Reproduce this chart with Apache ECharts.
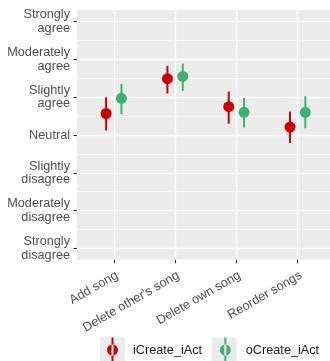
<!DOCTYPE html>
<html>
<head>
<meta charset="utf-8">
<script src="https://cdn.jsdelivr.net/npm/echarts@6/dist/echarts.min.js"></script>
<style>html,body{margin:0;padding:0;background:#fff}#c{width:330px;height:361px}</style>
</head>
<body>
<div id="c"></div>
<script>
// ---- data ----
const categories = ["Add song", "Delete other's song", "Delete own song", "Reorder songs"];
const levelLabels = ["Strongly\ndisagree", "Moderately\ndisagree", "Slightly\ndisagree", "Neutral", "Slightly\nagree", "Moderately\nagree", "Strongly\nagree"];
const seriesNames = ["iCreate_iAct", "oCreate_iAct"];
const iCreateMean = [4.57, 5.49, 4.75, 4.21];
const iCreateLow  = [4.12, 5.10, 4.30, 3.79];
const iCreateHigh = [5.00, 5.83, 5.15, 4.62];
const oCreateMean = [4.97, 5.55, 4.60, 4.60];
const oCreateLow  = [4.55, 5.17, 4.20, 4.18];
const oCreateHigh = [5.35, 5.89, 4.98, 5.03];

// ---- layout/style ----
const FONT = "Liberation Sans, Arial, sans-serif";
const FS = 12.7;
const AX = "#4D4D4D";
const colors = ["#CC0000", "#3CB371"];
const panelLeft = 77, panelTop = 10.3, unitX = 61.3, unitY = 37.8;
const panelW = 4.2 * unitX, panelH = 6.6 * unitY;

function build(mean, low, high) {
  return categories.map((c, i) => [i + 1, mean[i], low[i], high[i]]);
}
function renderer(dodge) {
  return function (params, api) {
    const x = api.value(0) + dodge;
    const p = api.coord([x, api.value(1)]);
    const lo = api.coord([x, api.value(2)]);
    const hi = api.coord([x, api.value(3)]);
    const col = api.visual('color');
    return {
      type: 'group',
      children: [
        { type: 'line', shape: { x1: lo[0], y1: lo[1], x2: hi[0], y2: hi[1] }, style: { stroke: col, lineWidth: 2 } },
        { type: 'circle', shape: { cx: p[0], cy: p[1], r: 5.5 }, style: { fill: col } }
      ]
    };
  };
}
const iconPath = 'path://M0,0L0,0Z M25,25L25,25Z M11.5,0H13.5V25H11.5Z M7,12.5a5.5,5.5 0 1,0 11,0a5.5,5.5 0 1,0 -11,0Z';

const chart = echarts.init(document.getElementById('c'), null, { renderer: 'canvas' });
chart.setOption({
  animation: false,
  backgroundColor: '#FFFFFF',
  textStyle: { fontFamily: FONT },
  grid: [
    { left: panelLeft, top: panelTop, width: panelW, height: panelH, show: true, backgroundColor: '#EBEBEB', borderWidth: 0, outerBoundsMode: 'none', containLabel: false },
    { left: panelLeft, top: panelTop + 0.3 * unitY, width: panelW, height: 6 * unitY, outerBoundsMode: 'none', containLabel: false },
    { left: panelLeft + 0.6 * unitX, top: panelTop, width: 3 * unitX, height: panelH, outerBoundsMode: 'none', containLabel: false }
  ],
  xAxis: [
    { gridIndex: 0, type: 'value', show: false, min: 0, max: 1 },
    { gridIndex: 1, type: 'value', show: false, min: 0, max: 1 },
    { gridIndex: 2, type: 'value', min: 1, max: 4, interval: 1,
      axisLine: { show: false },
      axisTick: { show: true, length: 3.5, lineStyle: { color: '#333333', width: 1.1 } },
      axisLabel: { rotate: 30, margin: 9, color: AX, fontSize: FS, fontFamily: FONT, verticalAlign: 'top', align: 'right',
        formatter: v => categories[Math.round(v) - 1] || '' },
      splitLine: { show: true, lineStyle: { color: '#FFFFFF', width: 1.4 } } }
  ],
  yAxis: [
    { gridIndex: 0, type: 'value', show: false, min: 0, max: 1 },
    { gridIndex: 1, type: 'value', min: 1, max: 7, interval: 1,
      axisLine: { show: false },
      axisTick: { show: true, length: 3.5, lineStyle: { color: '#333333', width: 1.1 } },
      axisLabel: { margin: 7, color: AX, fontSize: FS, fontFamily: FONT, lineHeight: 13.5, align: 'right',
        formatter: v => levelLabels[Math.round(v) - 1] || '' },
      splitLine: { show: true, lineStyle: { color: '#FFFFFF', width: 1.4 } },
      minorTick: { show: false, splitNumber: 2 },
      minorSplitLine: { show: true, lineStyle: { color: '#FFFFFF', width: 0.7 } } },
    { gridIndex: 2, type: 'value', show: false, min: 0.7, max: 7.3 }
  ],
  legend: {
    left: 100, top: 337.5, padding: 0, itemWidth: 25, itemHeight: 25, itemGap: 10.7,
    textStyle: { color: '#1A1A1A', fontSize: FS, fontFamily: FONT, padding: [0, 0, 0, 3] },
    data: seriesNames.map(n => ({ name: n, icon: iconPath }))
  },
  graphic: [
    { type: 'rect', left: 100, top: 337.5, shape: { width: 25, height: 25 }, style: { fill: '#EBEBEB' }, z: -1 },
    { type: 'rect', left: 211.7, top: 337.5, shape: { width: 25, height: 25 }, style: { fill: '#EBEBEB' }, z: -1 }
  ],
  series: [
    { name: seriesNames[0], type: 'custom', xAxisIndex: 2, yAxisIndex: 2, clip: false, itemStyle: { color: colors[0] },
      encode: { x: 0, y: [1, 2, 3] }, renderItem: renderer(-0.125), data: build(iCreateMean, iCreateLow, iCreateHigh) },
    { name: seriesNames[1], type: 'custom', xAxisIndex: 2, yAxisIndex: 2, clip: false, itemStyle: { color: colors[1] },
      encode: { x: 0, y: [1, 2, 3] }, renderItem: renderer(0.125), data: build(oCreateMean, oCreateLow, oCreateHigh) }
  ]
});
</script>
</body>
</html>
